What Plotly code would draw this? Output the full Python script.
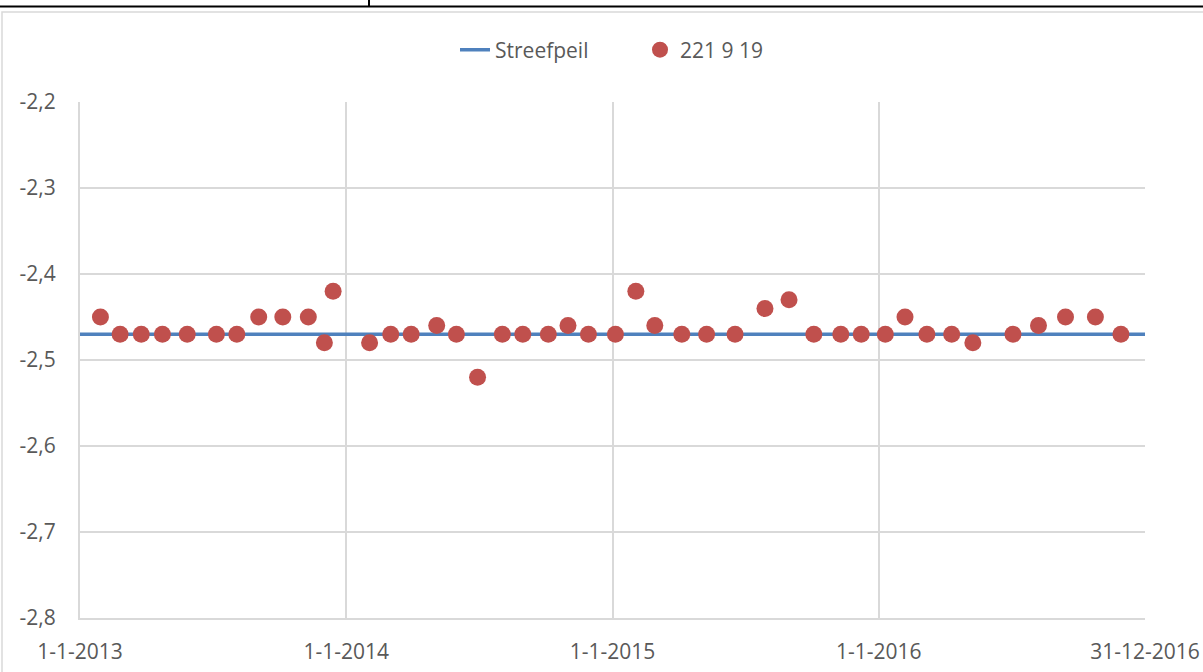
import plotly.graph_objects as go

# Data
streef_dates = ["2013-01-01", "2016-12-31"]
streef_values = [-2.47, -2.47]

meas_dates = [
    "2013-01-29", "2013-02-25", "2013-03-26", "2013-04-24", "2013-05-28", "2013-07-07",
    "2013-08-04", "2013-09-03", "2013-10-06", "2013-11-10", "2013-12-02", "2013-12-14",
    "2014-02-02", "2014-03-03", "2014-03-31", "2014-05-05", "2014-06-01", "2014-06-30",
    "2014-08-03", "2014-08-31", "2014-10-05", "2014-11-01", "2014-11-29",
    "2015-01-05", "2015-02-02", "2015-02-28", "2015-04-06", "2015-05-10", "2015-06-18",
    "2015-07-29", "2015-08-31", "2015-10-04", "2015-11-10", "2015-12-08",
    "2016-01-10", "2016-02-06", "2016-03-07", "2016-04-10", "2016-05-09", "2016-07-03",
    "2016-08-07", "2016-09-13", "2016-10-24", "2016-11-28",
]
meas_values = [
    -2.45, -2.47, -2.47, -2.47, -2.47, -2.47,
    -2.47, -2.45, -2.45, -2.45, -2.48, -2.42,
    -2.48, -2.47, -2.47, -2.46, -2.47, -2.52,
    -2.47, -2.47, -2.47, -2.46, -2.47,
    -2.47, -2.42, -2.46, -2.47, -2.47, -2.47,
    -2.44, -2.43, -2.47, -2.47, -2.47,
    -2.47, -2.45, -2.47, -2.47, -2.48, -2.47,
    -2.46, -2.45, -2.45, -2.47,
]

x_tickvals = ["2013-01-01", "2014-01-01", "2015-01-01", "2016-01-01", "2016-12-31"]
x_ticktext = ["1-1-2013", "1-1-2014", "1-1-2015", "1-1-2016", "31-12-2016"]

y_tickvals = [-2.8, -2.7, -2.6, -2.5, -2.4, -2.3, -2.2]
y_ticktext = ["-2,8", "-2,7", "-2,6", "-2,5", "-2,4", "-2,3", "-2,2"]

FONT = "Open Sans"
TXT = "#595959"
GRID = "#d9d9d9"
FS = 21

fig = go.Figure()
fig.add_trace(go.Scatter(
    x=streef_dates, y=streef_values, mode="lines", name="Streefpeil",
    line=dict(color="#4F81BD", width=3.5),
))
fig.add_trace(go.Scatter(
    x=meas_dates, y=meas_values, mode="markers", name="221 9 19",
    marker=dict(color="#C0504D", size=17),
))

L, R, T, B = 80, 58, 102, 54
W, H = 1203, 672
pw = W - L - R
ph = H - T - B

def px(x):
    return (x - L) / pw

def py(y):
    return (H - B - y) / ph

shapes = [
    dict(type="rect", xref="paper", yref="paper", x0=px(2), x1=px(1210), y0=py(680), y1=py(12),
         line=dict(color=GRID, width=1.5), layer="below"),
    dict(type="line", xref="paper", yref="paper", x0=px(-5), x1=px(1210), y0=py(6.5), y1=py(6.5),
         line=dict(color="black", width=2)),
    dict(type="line", xref="paper", yref="paper", x0=px(369), x1=px(369), y0=py(-2), y1=py(6.5),
         line=dict(color="black", width=2)),
]

fig.update_layout(
    width=W, height=H,
    margin=dict(l=L, r=R, t=T, b=B, autoexpand=False),
    paper_bgcolor="white", plot_bgcolor="white",
    font=dict(family=FONT, size=FS, color=TXT),
    showlegend=True,
    legend=dict(orientation="h", x=px(455), xanchor="left", y=py(50), yanchor="middle",
                font=dict(family=FONT, size=FS, color=TXT), entrywidth=140, entrywidthmode="pixels"),
    shapes=shapes,
    xaxis=dict(
        type="date", range=["2013-01-01", "2016-12-31"], automargin=False,
        tickmode="array", tickvals=x_tickvals, ticktext=x_ticktext,
        showgrid=True, gridcolor=GRID, gridwidth=2,
        showline=True, linecolor=GRID, linewidth=2,
        ticks="", zeroline=False, tickfont=dict(size=FS, color=TXT), ticklabelstandoff=14,
    ),
    yaxis=dict(
        range=[-2.8, -2.2], tickmode="array", tickvals=y_tickvals, ticktext=y_ticktext,
        automargin=False,
        showgrid=True, gridcolor=GRID, gridwidth=2,
        showline=True, linecolor=GRID, linewidth=2,
        ticks="", zeroline=False, tickfont=dict(size=FS, color=TXT), ticklabelstandoff=18,
    ),
)

fig.write_html("out.html", config={"displayModeBar": False},
               post_script="document.body.style.margin='0';")
